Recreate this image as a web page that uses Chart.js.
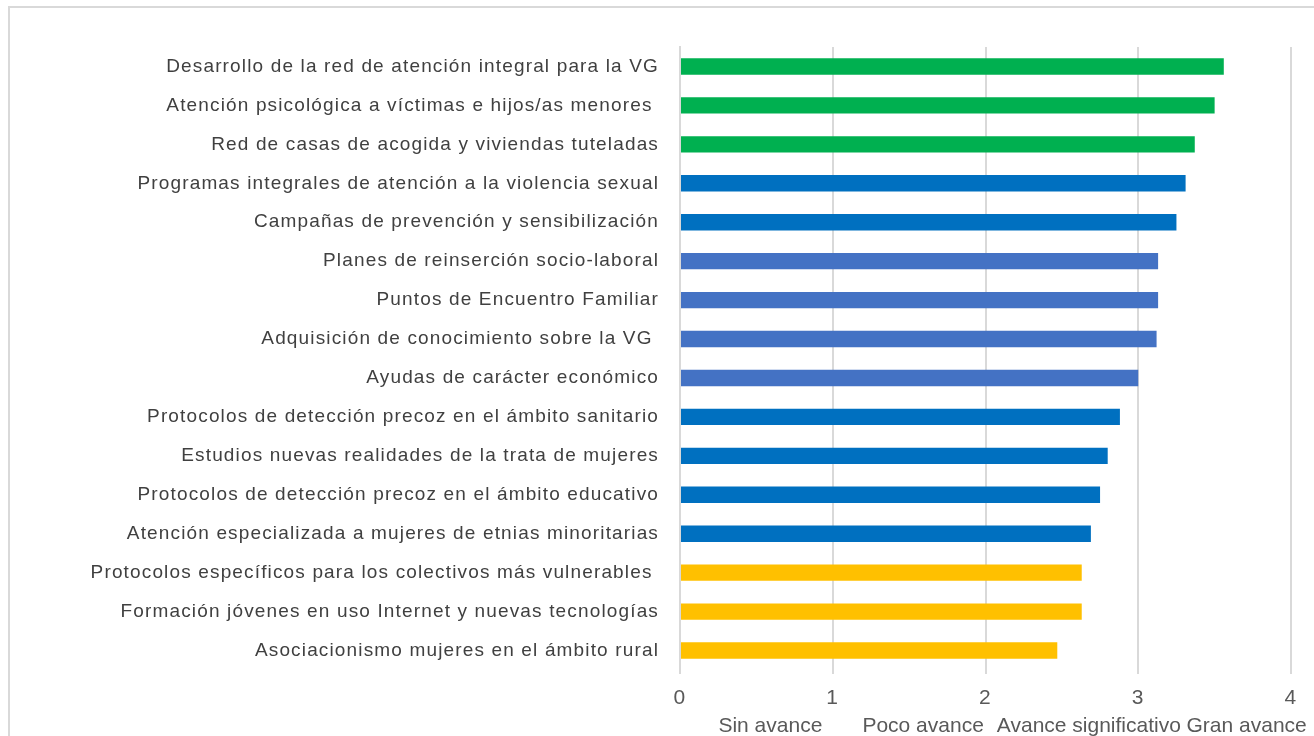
<!DOCTYPE html>
<html>
<head>
<meta charset="utf-8">
<script src="https://cdn.jsdelivr.net/npm/chart.js@4.4.1/dist/chart.umd.min.js"></script>
<style>
    html, body { margin: 0; padding: 0; background: #fff; }
    #wrap { width: 1314px; height: 736px; position: relative; }
</style>
</head>
<body>
<div id="wrap"><canvas id="chart" width="1314" height="736"></canvas></div>
<script>
const categories = [
    "Desarrollo de la red de atención integral para la VG",
    "Atención psicológica a víctimas e hijos/as menores ",
    "Red de casas de acogida y viviendas tuteladas",
    "Programas integrales de atención a la violencia sexual",
    "Campañas de prevención y sensibilización",
    "Planes de reinserción socio-laboral",
    "Puntos de Encuentro Familiar",
    "Adquisición de conocimiento sobre la VG ",
    "Ayudas de carácter económico",
    "Protocolos de detección precoz en el ámbito sanitario",
    "Estudios nuevas realidades de la trata de mujeres",
    "Protocolos de detección precoz en el ámbito educativo",
    "Atención especializada a mujeres de etnias minoritarias",
    "Protocolos específicos para los colectivos más vulnerables ",
    "Formación jóvenes en uso Internet y nuevas tecnologías",
    "Asociacionismo mujeres en el ámbito rural",
];
const scores = [3.56, 3.50, 3.37, 3.31, 3.25, 3.13, 3.13, 3.12, 3.00, 2.88, 2.80, 2.75, 2.69, 2.63, 2.63, 2.47];
const groups = ["green", "green", "green", "blue", "blue", "steel", "steel", "steel", "steel",
    "blue", "blue", "blue", "blue", "yellow", "yellow", "yellow"];
const groupColors = { green: "#00b050", blue: "#0070c0", steel: "#4472c4", yellow: "#ffc000" };
const scaleLabels = ["Sin avance", "Poco avance", "Avance significativo", "Gran avance"];
const scaleLabelShift = [14, 14, 27, 32];

const frame = {
    id: "frame",
    beforeDraw(chart) {
        const c = chart.ctx;
        c.save();
        c.fillStyle = "#fff";
        c.fillRect(0, 0, chart.width, chart.height);
        c.strokeStyle = "#d9d9d9";
        c.lineWidth = 2;
        c.strokeRect(9, 7, 1400, 800);
        c.restore();
        // the category labels in the original are slightly spaced out
        c.letterSpacing = "1.15px";
    },
};

// descriptive labels under the numeric ticks, one per interval
const levelLabels = {
    id: "levelLabels",
    afterDraw(chart) {
        const x = chart.scales.x;
        const c = chart.ctx;
        c.save();
        c.letterSpacing = "0px";
        c.font = '21px "Liberation Sans", Arial, sans-serif';
        c.fillStyle = "#595959";
        c.textAlign = "center";
        c.textBaseline = "alphabetic";
        scaleLabels.forEach((txt, i) => {
            c.fillText(txt, x.getPixelForValue(i + 0.5) + scaleLabelShift[i], 732);
        });
        c.restore();
    },
};

new Chart(document.getElementById("chart").getContext("2d"), {
    type: "bar",
    data: {
        labels: categories,
        datasets: [
            {
                data: scores,
                backgroundColor: groups.map((g) => groupColors[g]),
                borderWidth: 0,
                barPercentage: 0.42,
                categoryPercentage: 1,
            },
        ],
    },
    options: {
        indexAxis: "y",
        responsive: false,
        animation: false,
        layout: { padding: { top: 47, right: 23, bottom: 0, left: 0 } },
        plugins: {
            legend: { display: false },
            tooltip: { enabled: false },
        },
        scales: {
            x: {
                min: 0,
                max: 4,
                ticks: {
                    stepSize: 1,
                    color: "#595959",
                    padding: 12,
                    font: { family: '"Liberation Sans", Arial, sans-serif', size: 21 },
                },
                grid: { color: "#d9d9d9", lineWidth: 2, tickLength: 4, drawTicks: true },
                border: { display: false },
                afterFit: (scale) => { scale.height = 66; },
            },
            y: {
                ticks: {
                    color: "#404040",
                    padding: 13,
                    font: { family: '"Liberation Sans", Arial, sans-serif', size: 19 },
                },
                grid: { display: false },
                border: { display: true, color: "#d9d9d9", width: 2 },
                afterFit: (scale) => { scale.width = 680; },
            },
        },
    },
    plugins: [frame, levelLabels],
});
</script>
</body>
</html>
